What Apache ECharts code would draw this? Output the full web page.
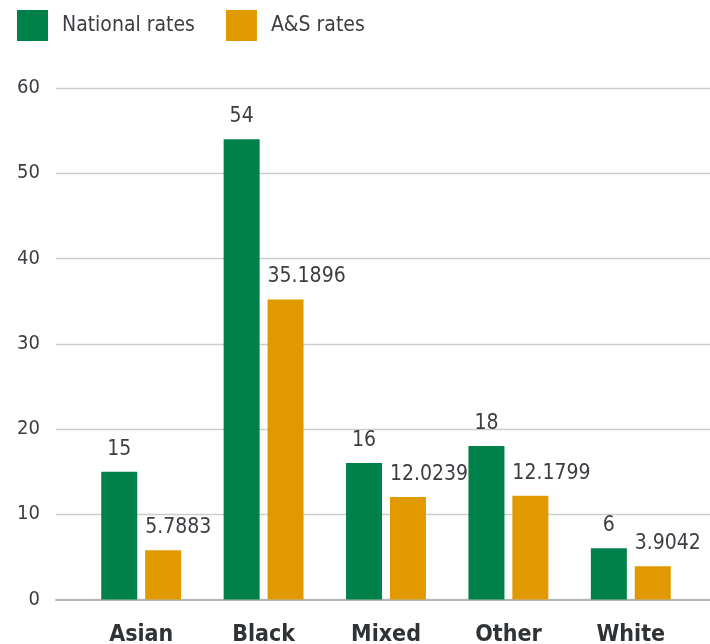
<!DOCTYPE html>
<html>
<head>
<meta charset="utf-8">
<script src="https://cdn.jsdelivr.net/npm/echarts@6/dist/echarts.min.js"></script>
<style>
  html, body { margin: 0; padding: 0; background: #ffffff; }
  #chart { width: 710px; height: 644px; }
</style>
</head>
<body>
<div id="chart"></div>
<script>
// Rates by ethnic group: national vs A&S
const categories = ['Asian', 'Black', 'Mixed', 'Other', 'White'];
const nationalRates = [15, 54, 16, 18, 6];
const asRates = [5.7883, 35.1896, 12.0239, 12.1799, 3.9042];
const yTicks = [0, 10, 20, 30, 40, 50, 60];
const seriesNames = ['National rates', 'A&S rates'];

const FONT = '"Liberation Sans Narrow", "DejaVu Sans Condensed", sans-serif';
const TEXT = '#3b3e42';
const GREEN = '#00814a';
const ORANGE = '#e09a00';

const chart = echarts.init(document.getElementById('chart'), null, { renderer: 'canvas' });

const labelText = { color: TEXT, fontFamily: FONT, fontSize: 21, formatter: p => String(p.value) };

chart.setOption({
  animation: false,
  backgroundColor: '#ffffff',
  legend: {
    left: 12,
    top: 5,
    itemWidth: 31,
    itemHeight: 31,
    itemGap: 31,
    icon: 'rect',
    textStyle: { color: TEXT, fontFamily: FONT, fontSize: 21, padding: [2, 0, 0, 9] },
    data: seriesNames
  },
  grid: [
    // full-width grid carrying the y axis, gridlines and baseline
    { left: 56, right: 0, top: 88, bottom: 44.5, outerBoundsMode: 'none' },
    // inner grid holding the category bands and bars
    { left: 80, right: 18, top: 88, bottom: 44.5, outerBoundsMode: 'none' }
  ],
  xAxis: [
    {
      gridIndex: 0, type: 'value', min: 0, max: 1,
      axisLine: { show: true, onZero: false, lineStyle: { color: '#b4b7ba', width: 2 } },
      axisTick: { show: false }, axisLabel: { show: false }, splitLine: { show: false }
    },
    {
      gridIndex: 1, type: 'category', data: categories,
      axisLine: { show: false }, axisTick: { show: false },
      axisLabel: { color: '#303336', fontFamily: FONT, fontSize: 23, fontWeight: 'bold', margin: 24 }
    }
  ],
  yAxis: [
    {
      gridIndex: 0, type: 'value', min: yTicks[0], max: yTicks[yTicks.length - 1], interval: 10,
      axisLine: { show: false }, axisTick: { show: false },
      axisLabel: { color: TEXT, fontFamily: FONT, fontSize: 20, margin: 16 },
      splitLine: { show: true, lineStyle: { color: '#cbcdcf', width: 1.3 } }
    },
    {
      gridIndex: 1, type: 'value', min: yTicks[0], max: yTicks[yTicks.length - 1], interval: 10,
      show: false, splitLine: { show: false }
    }
  ],
  series: [
    {
      name: seriesNames[0], type: 'bar', xAxisIndex: 1, yAxisIndex: 1,
      data: nationalRates, barWidth: 36, barGap: '22%',
      itemStyle: { color: GREEN },
      label: Object.assign({ show: true, position: 'top', distance: 12 }, labelText)
    },
    {
      name: seriesNames[1], type: 'bar', xAxisIndex: 1, yAxisIndex: 1,
      data: asRates, barWidth: 36, barGap: '22%',
      itemStyle: { color: ORANGE },
      // wide decimal labels start at the bar's left edge
      label: Object.assign({ show: true, position: [0, -12], align: 'left', verticalAlign: 'bottom' }, labelText)
    }
  ]
});
</script>
</body>
</html>
